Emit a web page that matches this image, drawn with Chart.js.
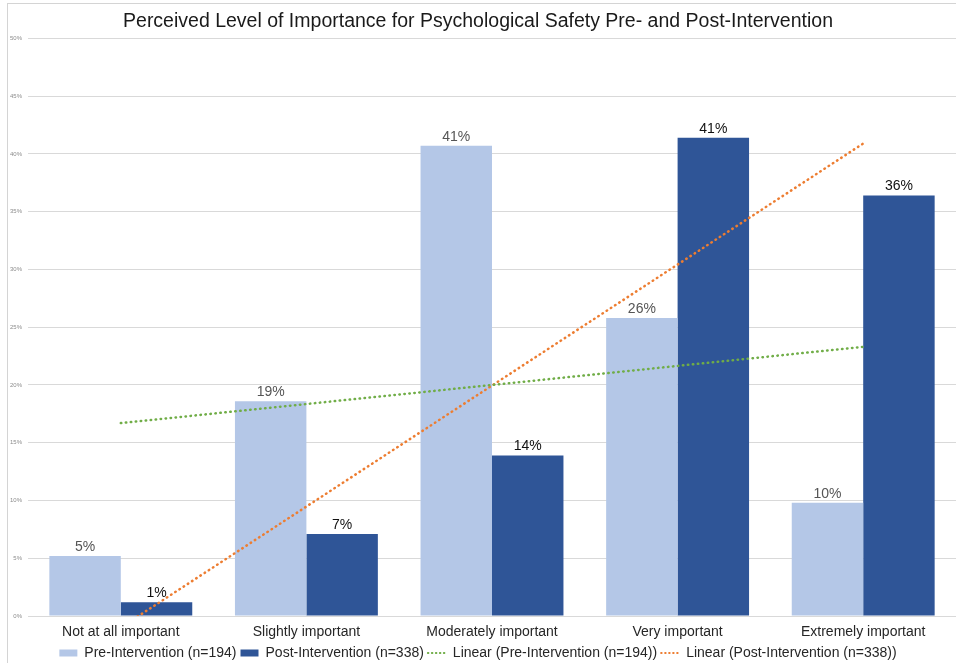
<!DOCTYPE html>
<html>
<head>
<meta charset="utf-8">
<script src="https://cdn.jsdelivr.net/npm/chart.js@4/dist/chart.umd.min.js"></script>
<style>
	html, body { margin: 0; padding: 0; background: #ffffff; overflow: hidden; }
	#wrap { position: relative; width: 956px; height: 663px; }
	#importance { display: block; }
	#frame {
		position: absolute; left: 7px; top: 3px; width: 1000px; height: 700px;
		border-left: 1px solid #d4d4d4; border-top: 1px solid #d4d4d4;
		pointer-events: none;
	}
</style>
</head>
<body>
<div id="wrap">
	<canvas id="importance" width="956" height="663"></canvas>
	<div id="frame"></div>
</div>
<script>
// categories and values (percent)
const categories = [
	"Not at all important",
	"Slightly important",
	"Moderately important",
	"Very important",
	"Extremely important",
];
const preValues = [5.2, 18.6, 40.7, 25.8, 9.8];
const postValues = [1.2, 7.1, 13.9, 41.4, 36.4];
// trendline end points (first and last category), gaps in between
const preTrend = [16.7, null, null, null, 23.3];
const postTrend = [-1.0, null, null, null, 40.9];
const yTicks = [0, 5, 10, 15, 20, 25, 30, 35, 40, 45, 50];

const preColour = "#b4c7e7";
const postColour = "#2f5597";
const textColour = "#262626";

Chart.defaults.font.family = "'Liberation Sans', Arial, Helvetica, sans-serif";

// draws the percent label above each bar
const barLabels = {
	id: "barLabels",
	afterDatasetsDraw(chart) {
		const ctx = chart.ctx;
		chart.data.datasets.forEach((ds, i) => {
			if (ds.type !== "bar") return;
			const meta = chart.getDatasetMeta(i);
			ctx.save();
			ctx.font = "14px 'Liberation Sans', Arial, sans-serif";
			ctx.fillStyle = ds.labelColour;
			ctx.textAlign = "center";
			ctx.textBaseline = "bottom";
			meta.data.forEach((bar, j) => {
				ctx.fillText(Math.round(ds.data[j]) + "%", bar.x, bar.y - 2);
			});
			ctx.restore();
		});
	},
};

const dotted = {
	borderWidth: 2.5,
	borderDash: [0.5, 4.5],
	borderCapStyle: "round",
	pointRadius: 0,
	spanGaps: true,
	fill: false,
	clip: 0,
	tension: 0,
};

const importanceChart = new Chart(document.getElementById("importance"), {
	data: {
		labels: categories,
		datasets: [
			{
				type: "bar",
				label: "Pre-Intervention (n=194)",
				data: preValues,
				backgroundColor: preColour,
				labelColour: "#555555",
				order: 2,
			},
			{
				type: "bar",
				label: "Post-Intervention (n=338)",
				data: postValues,
				backgroundColor: postColour,
				labelColour: "#111111",
				order: 2,
			},
			{
				type: "line",
				label: "Linear (Pre-Intervention (n=194))",
				data: preTrend,
				borderColor: "#70ad47",
				backgroundColor: "#70ad47",
				order: 1,
				...dotted,
			},
			{
				type: "line",
				label: "Linear (Post-Intervention (n=338))",
				data: postTrend,
				borderColor: "#ed7d31",
				backgroundColor: "#ed7d31",
				order: 1,
				...dotted,
			},
		],
	},
	options: {
		responsive: false,
		animation: false,
		layout: {
			// legend sits low, close to the bottom edge
			padding: { top: 0, right: 0, bottom: -7, left: 0 },
		},
		datasets: {
			bar: {
				categoryPercentage: 0.77,
				barPercentage: 1.0,
			},
		},
		scales: {
			x: {
				grid: { display: false, drawTicks: false },
				border: { display: false },
				afterFit: (scale) => {
					scale.height = 26;
				},
				ticks: {
					color: textColour,
					font: { size: 14 },
					padding: 8,
					maxRotation: 0,
					autoSkip: false,
				},
			},
			y: {
				min: 0,
				max: 50,
				afterBuildTicks: (scale) => {
					scale.ticks = yTicks.map((v) => ({ value: v }));
				},
				afterFit: (scale) => {
					scale.width = 28;
				},
				grid: {
					color: "#d9d9d9",
					drawTicks: false,
				},
				border: { display: false },
				ticks: {
					color: "#8c8c8c",
					font: { size: 6 },
					padding: 6,
					callback: (v) => v + "%",
				},
			},
		},
		plugins: {
			title: {
				display: true,
				text: "Perceived Level of Importance for Psychological Safety Pre- and Post-Intervention",
				color: "#1a1a1a",
				font: { size: 19.5, weight: "normal" },
				padding: { top: 10, bottom: 5 },
			},
			legend: {
				position: "bottom",
				labels: {
					color: textColour,
					font: { size: 14 },
					padding: 4,
					boxWidth: 18,
					boxHeight: 7,
					usePointStyle: true,
					pointStyleWidth: 18,
					sort: (a, b) => a.datasetIndex - b.datasetIndex,
					generateLabels: (chart) => {
						const items = Chart.defaults.plugins.legend.labels.generateLabels(chart);
						items.forEach((item) => {
							const ds = chart.data.datasets[item.datasetIndex];
							if (ds.type === "line") {
								item.pointStyle = "line";
								item.lineWidth = 2;
								item.lineDash = [0.5, 3.5];
								item.lineCap = "round";
							} else {
								item.pointStyle = "rect";
								item.lineWidth = 0;
								item.strokeStyle = ds.backgroundColor;
							}
						});
						return items;
					},
				},
			},
			tooltip: { enabled: false },
		},
	},
	plugins: [barLabels],
});
</script>
</body>
</html>
